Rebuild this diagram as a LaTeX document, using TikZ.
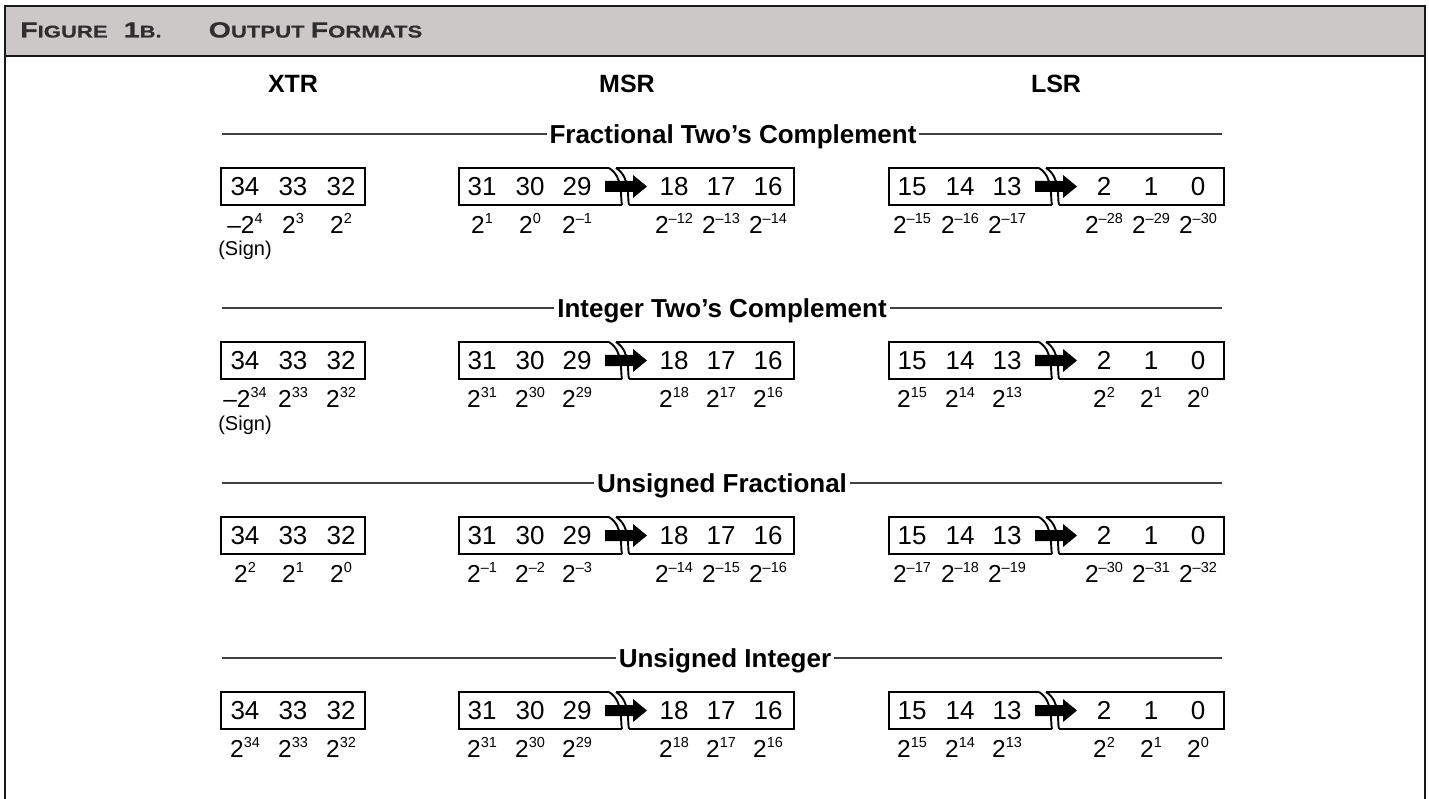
\documentclass[tikz,border=0pt]{standalone}
\usepackage{fontspec}
\setmainfont{Liberation Sans}
\newfontfamily\hdrfont[BoldFeatures={FakeStretch=1.3,FakeBold=0.6}]{Liberation Sans}
\definecolor{hdrfill}{HTML}{CCC8C7}
\definecolor{hdrtext}{HTML}{2E2E2E}
\newcommand\pw[1]{2\raisebox{0.42em}{\fontsize{14.5}{15}\selectfont #1}}
\newcommand\bigc[1]{{\fontsize{22}{24}\selectfont #1}}
\newcommand\smc[1]{{\fontsize{17}{18}\selectfont #1}}
\tikzset{
  frameline/.style={line width=2.6pt, black!90},
  regframe/.style={line width=2.2pt, black, line join=miter},
  arcline/.style={line width=1.9pt, black},
  digit/.style={anchor=base, inner sep=0pt, font=\fontsize{26}{30}\selectfont},
  lbl/.style={anchor=base, inner sep=0pt, font=\fontsize{24.5}{28}\selectfont},
  signlbl/.style={anchor=base, inner sep=0pt, font=\fontsize{20}{24}\selectfont},
  rule/.style={line width=1.4pt, black!75},
  sectitle/.style={anchor=base, fill=white, inner xsep=3pt, inner ysep=3pt, font=\bfseries\fontsize{26}{30}\selectfont},
  colhead/.style={anchor=base, inner sep=0pt, font=\bfseries\fontsize{25}{30}\selectfont},
  hdrtitle/.style={anchor=base west, inner sep=0pt, text=hdrtext, font=\hdrfont\bfseries},
}
\newcommand\xtrbox[3]{%
  \begin{scope}[shift={(221,#2)}]
    \draw[regframe] (0,-18.5) rectangle (144,18.5);
    \foreach \lab [count=\i] in {34,33,32}{
      \pgfmathsetmacro\xx{{24,72,120}[\i-1]}
      \node[digit] (#1d\i) at (\xx,9.3) {\lab};}
    \foreach \lab [count=\i] in {#3}{
      \pgfmathsetmacro\xx{{24,72,120}[\i-1]}
      \node[lbl] (#1l\i) at (\xx,47) {\lab};}
  \end{scope}}
\newcommand\brokenbox[5]{%
  \begin{scope}[shift={(#2,#3)}]
    \draw[regframe] (150,-18.5) -- (0,-18.5) -- (0,18.5) -- (163,18.5);
    \draw[regframe] (157,-18.5) -- (335,-18.5) -- (335,18.5) -- (170,18.5);
    \draw[arcline] (150,-18.5) .. controls (165,-9) and (161,11) .. (163,18.5);
    \draw[arcline] (157,-18.5) .. controls (172,-9) and (168,11) .. (170,18.5);
    \fill (146,-5.5) -- (174,-5.5) -- (174,-11.5) -- (188,0) -- (174,11.5) -- (174,5.5) -- (146,5.5) -- cycle;
    \foreach \lab [count=\i] in {#4}{
      \pgfmathsetmacro\xx{{23,71,118,215,262,309}[\i-1]}
      \node[digit] (#1d\i) at (\xx,9.3) {\lab};}
    \foreach \lab [count=\i] in {#5}{
      \pgfmathsetmacro\xx{{23,71,118,215,262,309}[\i-1]}
      \node[lbl] (#1l\i) at (\xx,47) {\lab};}
  \end{scope}}
\begin{document}
\begin{tikzpicture}[x=1pt,y=-1pt]
\useasboundingbox (0,0) rectangle (1429,799);
% frame and header
\fill[hdrfill] (5,6) rectangle (1425,56);
\draw[frameline] (5,830) -- (5,6) -- (1425,6) -- (1425,830);
\draw[frameline] (5,56) -- (1425,56);
\node[hdrtitle] (fig) at (20,37.5) {\bigc{F}\smc{IGURE}};
\node[hdrtitle] (fignum) at (123.5,37.5) {\bigc{1}\smc{B.}};
\node[hdrtitle] (fmt1) at (208.5,37.5) {\bigc{O}\smc{UTPUT}};
\node[hdrtitle] (fmt2) at (310.5,37.5) {\bigc{F}\smc{ORMATS}};
% column heads
\node[colhead] (hx) at (293,93) {XTR};
\node[colhead] (hm) at (627,93) {MSR};
\node[colhead] (hl) at (1056,93) {LSR};
% section 1
\draw[rule] (222,134) -- (1222,134);
\node[sectitle] (t1) at (733,143.3) {Fractional Two’s Complement};
\xtrbox{ax}{186.5}{{–\pw{4}},{\pw{3}},{\pw{2}}}
\node[signlbl] (s1) at (245,256) {(Sign)};
\brokenbox{am}{459}{186.5}{31,30,29,18,17,16}{{\pw{1}},{\pw{0}},{\pw{–1}},{\pw{–12}},{\pw{–13}},{\pw{–14}}}
\brokenbox{al}{889}{186.5}{15,14,13,2,1,0}{{\pw{–15}},{\pw{–16}},{\pw{–17}},{\pw{–28}},{\pw{–29}},{\pw{–30}}}
% section 2
\draw[rule] (222,308) -- (1222,308);
\node[sectitle] (t2) at (722,317.3) {Integer Two’s Complement};
\xtrbox{bx}{360.5}{{–\pw{34}},{\pw{33}},{\pw{32}}}
\node[signlbl] (s2) at (245,430) {(Sign)};
\brokenbox{bm}{459}{360.5}{31,30,29,18,17,16}{{\pw{31}},{\pw{30}},{\pw{29}},{\pw{18}},{\pw{17}},{\pw{16}}}
\brokenbox{bl}{889}{360.5}{15,14,13,2,1,0}{{\pw{15}},{\pw{14}},{\pw{13}},{\pw{2}},{\pw{1}},{\pw{0}}}
% section 3
\draw[rule] (222,483) -- (1222,483);
\node[sectitle] (t3) at (722,492.3) {Unsigned Fractional};
\xtrbox{cx}{535.5}{{\pw{2}},{\pw{1}},{\pw{0}}}
\brokenbox{cm}{459}{535.5}{31,30,29,18,17,16}{{\pw{–1}},{\pw{–2}},{\pw{–3}},{\pw{–14}},{\pw{–15}},{\pw{–16}}}
\brokenbox{cl}{889}{535.5}{15,14,13,2,1,0}{{\pw{–17}},{\pw{–18}},{\pw{–19}},{\pw{–30}},{\pw{–31}},{\pw{–32}}}
% section 4
\draw[rule] (222,658) -- (1222,658);
\node[sectitle] (t4) at (725,667.3) {Unsigned Integer};
\xtrbox{dx}{710.5}{{\pw{34}},{\pw{33}},{\pw{32}}}
\brokenbox{dm}{459}{710.5}{31,30,29,18,17,16}{{\pw{31}},{\pw{30}},{\pw{29}},{\pw{18}},{\pw{17}},{\pw{16}}}
\brokenbox{dl}{889}{710.5}{15,14,13,2,1,0}{{\pw{15}},{\pw{14}},{\pw{13}},{\pw{2}},{\pw{1}},{\pw{0}}}
\end{tikzpicture}
\end{document}
